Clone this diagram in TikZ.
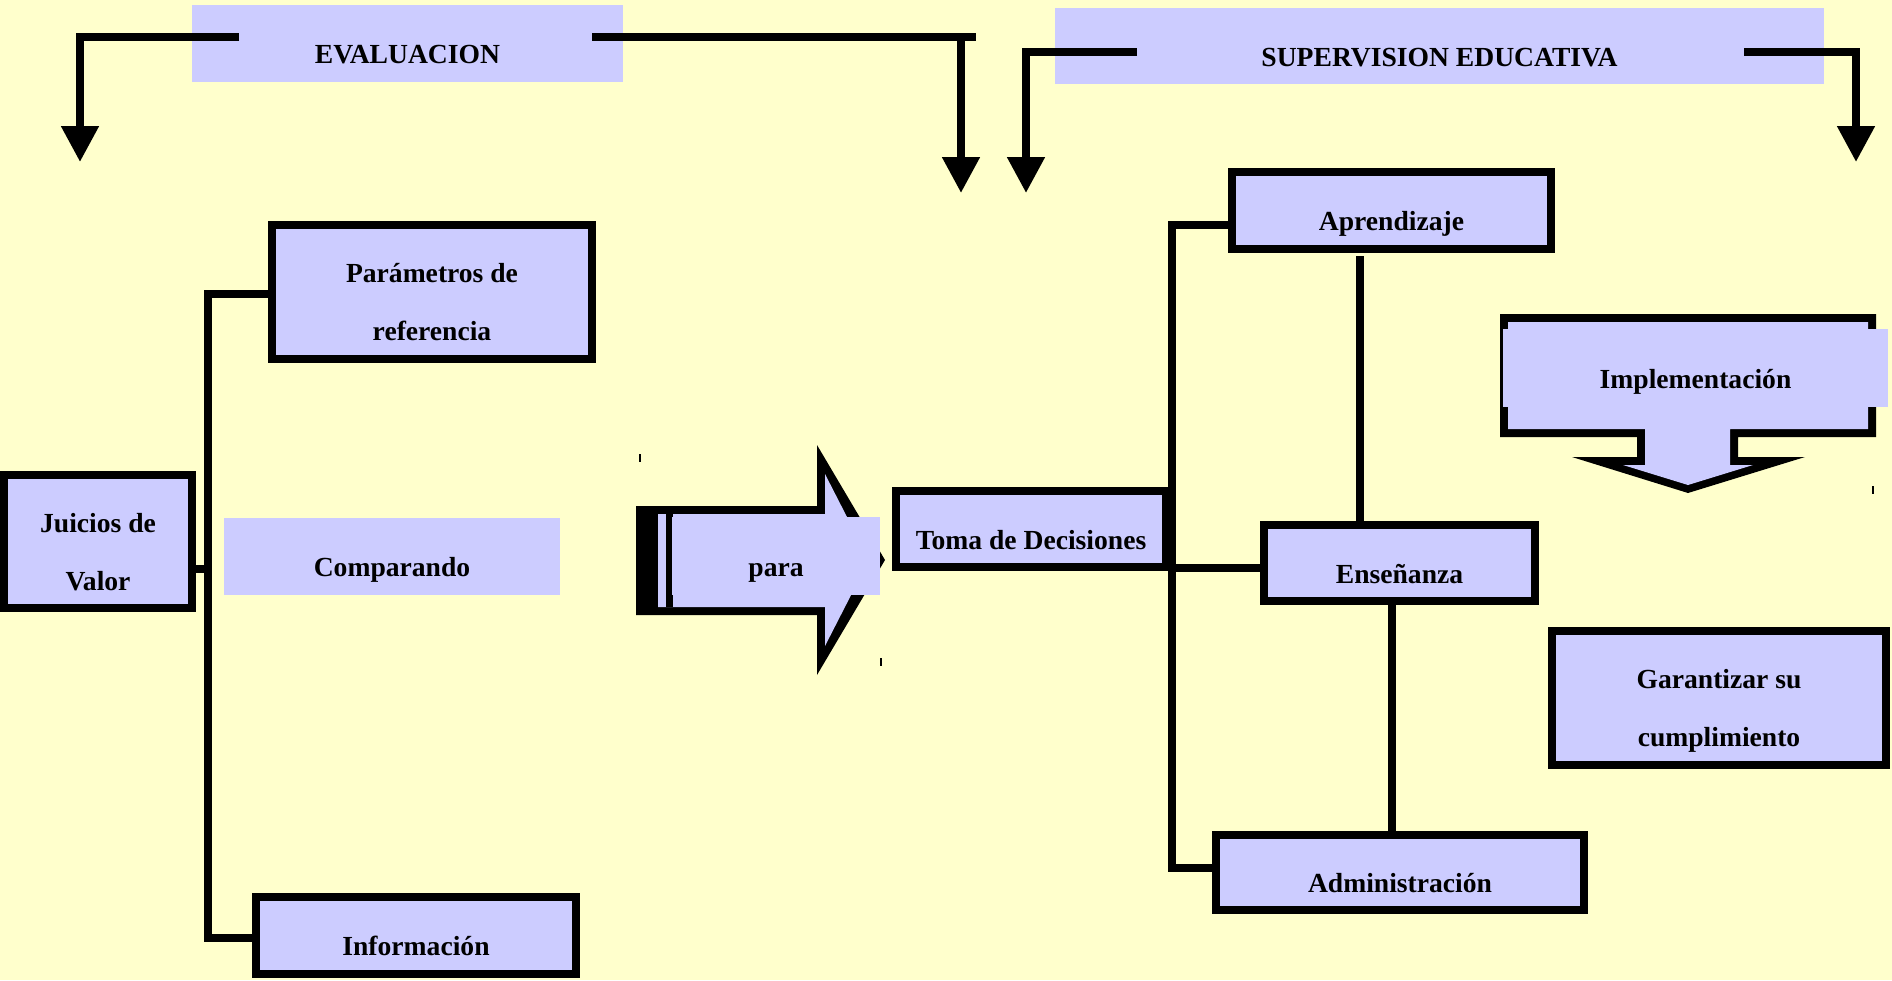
\documentclass[tikz,border=0pt]{standalone}
\usepackage{fontspec}
\setmainfont{Liberation Serif}
\usepackage{xcolor}
\usepackage{tikz}
\usetikzlibrary{arrows.meta, calc}
\definecolor{paper}{HTML}{FFFFCC}
\definecolor{lila}{HTML}{CCCCFF}
\tikzset{
    base/.style={font=\fontsize{27.6pt}{58pt}\selectfont\bfseries, align=center, inner sep=0pt, text height=46pt, text depth=6pt},
    two/.style={text height=103pt, text depth=6pt},
    block/.style={base, rectangle, draw=black, line width=8pt, fill=lila},
    flat/.style={base, rectangle, fill=lila},
    line/.style={draw=black, line width=8pt},
    drop/.style={draw=black, line width=8pt, -{Triangle[length=36pt, width=36pt]}}
}
\begin{document}
\begin{tikzpicture}[x=1pt, y=-1pt]
    \fill[paper] (0,0) rectangle (1892,980);
    \useasboundingbox (0,0) rectangle (1892,980);

    % titles
    \node [flat, minimum width=431pt, minimum height=77pt] (Eval) at (407.5,43.5) {EVALUACION};
    \node [flat, minimum width=769pt, minimum height=76pt] (Super) at (1439.5,46) {SUPERVISION EDUCATIVA};
    \coordinate (EvalA) at (239,37);
    \coordinate (EvalB) at (592,37);
    \coordinate (EvalEnd) at (976,37);
    \coordinate (SuperA) at (1137,52);
    \coordinate (SuperB) at (1744,52);
    \draw [drop] (EvalA) -| (80,162);
    \draw [line] (EvalB) -- (EvalEnd);
    \draw [drop] (EvalB) -| (961,193);
    \draw [drop] (SuperA) -| (1026,193);
    \draw [drop] (SuperB) -| (1856,162);

    % left tree
    \node [block, two, minimum width=188pt, minimum height=133pt] (Juicios) at (98,541.5) {Juicios de\\Valor};
    \node [block, two, minimum width=320pt, minimum height=134pt] (Param) at (432,292) {Parámetros de\\referencia};
    \node [flat, minimum width=336pt, minimum height=77pt] (Comp) at (392,556.5) {Comparando};
    \node [block, minimum width=320pt, minimum height=77pt] (Info) at (416,935.5) {Información};
    \coordinate (SpineL) at (208,569);
    \draw [line] ([yshift=-2pt]Param.west) -| (SpineL) |- ([yshift=-2.5pt]Info.west);
    \draw [line] (Juicios.east |- SpineL) -- (SpineL);

    % para arrow
    \fill [black] (636,506) -- (817,506) -- (817,445) -- (885,560) -- (817,675) -- (817,615) -- (636,615) -- cycle;
    \fill [lila] (658,514) -- (825,514) -- (825,474) -- (869,560) -- (825,646) -- (825,607) -- (658,607) -- cycle;
    \fill [black] (666,514) rectangle (673,607);
    \node [flat, minimum width=208pt, minimum height=78pt] (Para) at (776,556) {para};
    \draw [line width=1.5pt] (640,454) -- (640,462);
    \draw [line width=1.5pt] (881,658) -- (881,666);

    % right tree
    \node [block, minimum width=270pt, minimum height=76pt] (Toma) at (1031,529) {Toma de Decisiones};
    \node [block, minimum width=319pt, minimum height=77pt] (Apr) at (1391.5,210.5) {Aprendizaje};
    \node [block, minimum width=271pt, minimum height=76pt] (Ens) at (1399.5,563) {Enseñanza};
    \node [block, minimum width=368pt, minimum height=75pt] (Adm) at (1400,872.5) {Administración};
    \coordinate (SpineR) at (1172,568);
    \draw [line] ([yshift=-14.5pt]Apr.west) -| (SpineR) |- ([yshift=4.5pt]Adm.west);
    \draw [line] (SpineR) -- ([yshift=-5pt]Ens.west);
    \draw [line] ([xshift=-31.5pt,yshift=-3pt]Apr.south) -- ([xshift=-31.5pt]Apr.south |- Ens.north);
    \draw [line] ([xshift=-7.5pt]Ens.south) -- ([xshift=-7.5pt]Ens.south |- Adm.north);

    % implementacion arrow
    \fill [black] (1500,314) -- (1876,314) -- (1876,437) -- (1738,437) -- (1738,457) -- (1805,457) -- (1688,493) -- (1572,457) -- (1637,457) -- (1637,437) -- (1500,437) -- cycle;
    \fill [lila] (1508,322) -- (1868,322) -- (1868,429) -- (1730,429) -- (1730,465) -- (1753,465) -- (1688,485) -- (1623,465) -- (1645,465) -- (1645,429) -- (1508,429) -- cycle;
    \node [flat, minimum width=385pt, minimum height=78pt] (Impl) at (1695.5,368) {Implementación};
    \draw [line width=1.5pt] (1873,486) -- (1873,494);
    \node [block, two, minimum width=334pt, minimum height=134pt] (Gar) at (1719,698) {Garantizar su\\cumplimiento};
\end{tikzpicture}
\end{document}
